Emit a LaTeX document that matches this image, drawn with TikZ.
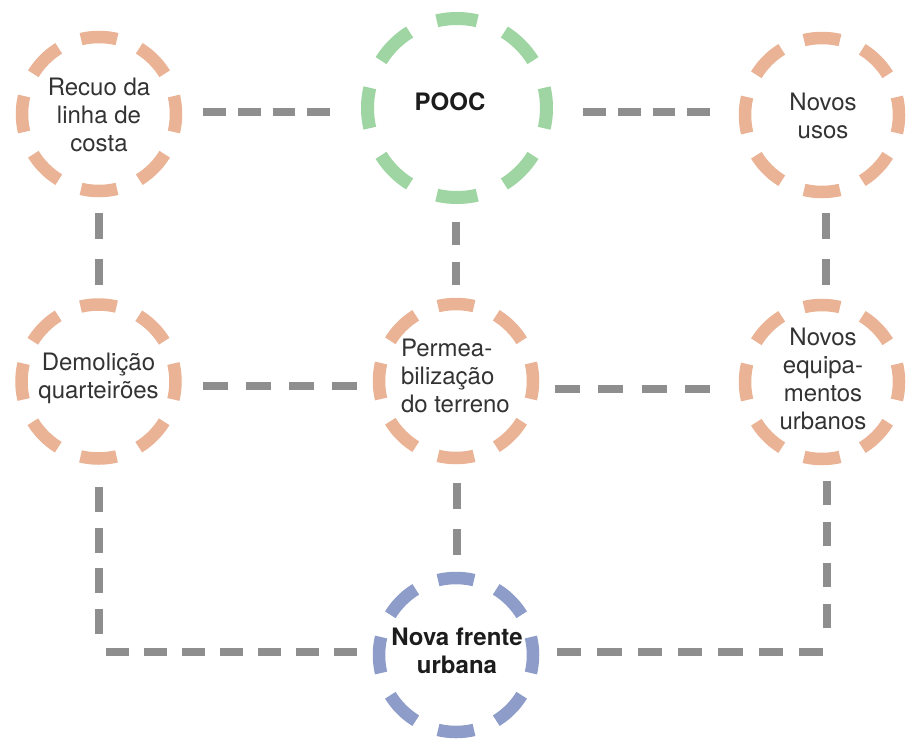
\documentclass[tikz,border=0pt]{standalone}
\usepackage{fontspec}
\setmainfont{TeX Gyre Heros}
\definecolor{orangec}{HTML}{EAB395}
\definecolor{greenc}{HTML}{9FD5A3}
\definecolor{bluec}{HTML}{8D9CC8}
\definecolor{connc}{HTML}{8E8E8E}
\definecolor{txtc}{HTML}{333333}
\definecolor{boldc}{HTML}{1C1C1C}
\tikzset{
  ring/.style={circle, draw=orangec, line width=12.5pt, minimum size=154pt, inner sep=0pt, outer sep=0pt,
    dash pattern=on 36.29pt off 24.19pt, dash phase=18.14pt},
  ringbig/.style={circle, draw=greenc, line width=13pt, minimum size=179pt, inner sep=0pt, outer sep=0pt,
    dash pattern=on 40.77pt off 29.52pt, dash phase=20.38pt},
  lbl/.style={inner sep=0pt, outer sep=0pt, text=txtc, align=center, anchor=base,
    font=\fontsize{24}{28.3}\selectfont},
  lblbold/.style={lbl, text=boldc, font=\fontsize{24}{28.3}\selectfont\bfseries},
  conn/.style 2 args={draw=connc, line width=8pt, dash pattern=on #1pt off #2pt},
}
\begin{document}
\begin{tikzpicture}[x=1pt, y=-1pt]
\useasboundingbox (0,0) rectangle (907,742);
\fill[white] (0,0) rectangle (907,742);

% rings
\node[ring] (recuo) at (99,114) {};
\node[ringbig] (pooc) at (457,108) {};
\node[ring] (usos) at (822,115) {};
\node[ring] (demol) at (98.5,381.5) {};
\node[ring] (perm) at (456,381) {};
\node[ring] (equip) at (822,382) {};
\node[ring, draw=bluec] (nova) at (456,655) {};

% labels (anchor = baseline of the last line)
\node[lbl] (recuoT) at (99,151.6) {Recuo da\\linha de\\costa};
\node[lblbold] (poocT) at (450,110) {POOC};
\node[lbl] (usosT) at (823,138.3) {Novos\\usos};
\node[lbl] (demolT) at (98.5,398.3) {Demolição\\quarteirões};
\node[lbl, align=left, anchor=base west] (permT) at (401,412.6) {Permea-\\bilização\\do terreno};
\node[lbl] (equipT) at (823,429.9) {Novos\\equipa-\\mentos\\urbanos};
\node[lblbold] (novaT) at (457,673.3) {Nova frente\\urbana};

% corner coordinates
\coordinate (cornerL) at (99,652);
\coordinate (cornerR) at (827,652);

% connectors
\draw[conn={22.75}{12}] ([shift={(27,-2)}]recuo.east) -- ([shift={(-37.5,4)}]pooc.west);
\draw[conn={22.75}{12}] ([shift={(36.5,4)}]pooc.east) -- ([shift={(-35,-3)}]usos.west);
\draw[conn={26}{20}] ([shift={(0,22)}]recuo.south) -- ([shift={(0.5,-19.5)}]demol.north);
\draw[conn={23}{17}] ([shift={(-1,24.5)}]pooc.south) -- ([shift={(0,-19)}]perm.north);
\draw[conn={26}{20}] ([shift={(4,21)}]usos.south) -- ([shift={(4,-20)}]equip.north);
\draw[conn={25}{18}] ([shift={(27.5,4.5)}]demol.east) -- ([shift={(-22,5)}]perm.west);
\draw[conn={25}{18.33}] ([shift={(22,8)}]perm.east) -- ([shift={(-35,7)}]equip.west);
\draw[conn={26}{20}] ([shift={(1,25)}]perm.south) -- ([shift={(1,-23)}]nova.north);
\draw[conn={25}{15.67}] ([shift={(0.5,28.5)}]demol.south) -- ([shift={(0,-18)}]cornerL);
\draw[conn={23}{15}] ([shift={(7,0)}]cornerL) -- ([shift={(-22,-3)}]nova.west);
\draw[conn={24.4}{15.9}] ([shift={(24,-3)}]nova.east) -- ([shift={(-4,0)}]cornerR);
\draw[conn={24.3}{16.7}] ([shift={(0,-24)}]cornerR) -- ([shift={(5,22)}]equip.south);
\end{tikzpicture}
\end{document}
